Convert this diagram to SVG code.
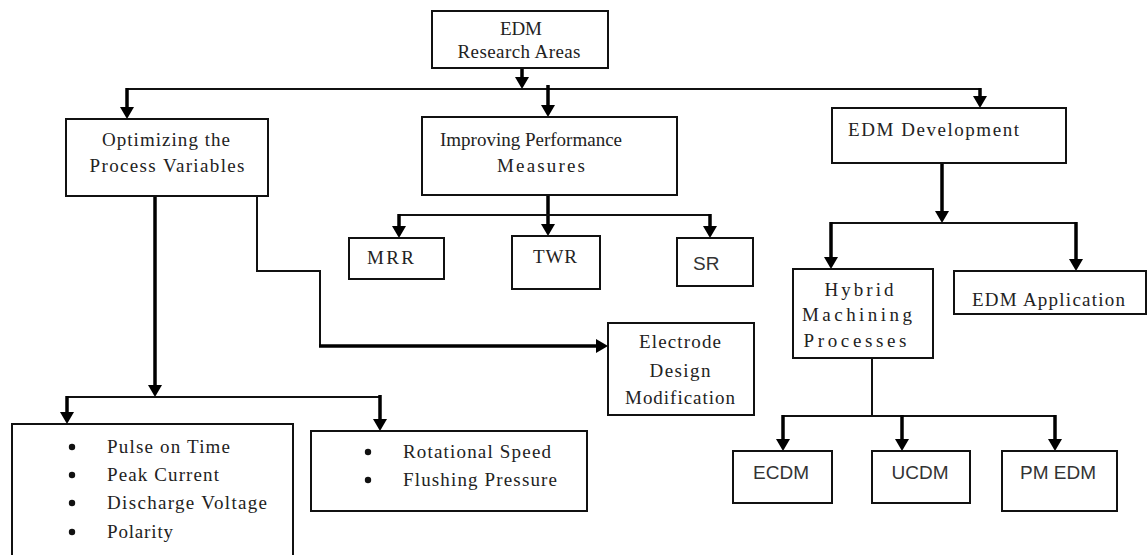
<svg xmlns="http://www.w3.org/2000/svg" width="1148" height="555" viewBox="0 0 1148 555">
<defs>
<marker id="ah" viewBox="0 0 12 14" refX="1" refY="7" markerWidth="12" markerHeight="14" markerUnits="userSpaceOnUse" orient="auto">
<path d="M0,0 L12,7 L0,14 z" fill="#000"/>
</marker>
<style>
.box{fill:#fff;stroke:#111;stroke-width:2}
.t{font-family:"Liberation Serif","Times New Roman",serif;font-size:19px;fill:#222}
.s{font-family:"Liberation Sans",Arial,sans-serif;font-size:19px;fill:#333}
.m{text-anchor:middle}
.thin{fill:none;stroke:#111;stroke-width:2}
.thick{fill:none;stroke:#000;stroke-width:3.5;marker-end:url(#ah)}
.bul{fill:#111}
</style>
</defs>
<rect width="1148" height="555" fill="#fff"/>

<g id="connectors">
<path class="thick" d="M522,68 V78"/>
<path class="thin" d="M127,89 H980"/>
<path class="thick" d="M127,88 V108"/>
<path class="thick" d="M548,85 V106"/>
<path class="thick" d="M980,88 V97"/>
<path class="thick" d="M155,196 V386"/>
<path class="thin" d="M67,397 H380"/>
<path class="thick" d="M67,396 V413"/>
<path class="thick" d="M380,395 V420"/>
<path class="thin" d="M257,196 V271 H320 V346"/>
<path class="thick" d="M319,346 H597"/>
<path class="thick" d="M548,195 V225"/>
<path class="thin" d="M399,215 H710"/>
<path class="thick" d="M399,214 V227"/>
<path class="thick" d="M710,214 V227"/>
<path class="thick" d="M942,163 V212"/>
<path class="thin" d="M831,223 H1076"/>
<path class="thick" d="M831,222 V258"/>
<path class="thick" d="M1076,222 V260"/>
<path class="thin" d="M872,358 V416"/>
<path class="thin" d="M783,416 H1055"/>
<path class="thick" d="M783,415 V440"/>
<path class="thick" d="M902,415 V440"/>
<path class="thick" d="M1055,415 V440"/>
</g>

<g id="n-root">
<rect class="box" x="432" y="11" width="176" height="57"/>
<text class="t m" x="521" y="35" textLength="42">EDM</text>
<text class="t m" x="519" y="58" textLength="123">Research Areas</text>
</g>

<g id="n-optimizing">
<rect class="box" x="66" y="119" width="202" height="77"/>
<text class="t m" x="166" y="146" textLength="128">Optimizing the</text>
<text class="t m" x="167" y="172" textLength="155">Process Variables</text>
</g>

<g id="n-improving">
<rect class="box" x="422" y="117" width="255" height="78"/>
<text class="t m" x="531" y="146">Improving Performance</text>
<text class="t m" x="541" y="172" textLength="88">Measures</text>
</g>

<g id="n-development">
<rect class="box" x="832" y="108" width="234" height="55"/>
<text class="t" x="848" y="136" textLength="171">EDM Development</text>
</g>

<g id="n-mrr">
<rect class="box" x="349" y="238" width="95" height="41"/>
<text class="t" x="367" y="264" textLength="47">MRR</text>
</g>

<g id="n-twr">
<rect class="box" x="512" y="236" width="88" height="53"/>
<text class="t" x="533" y="263" textLength="44">TWR</text>
</g>

<g id="n-sr">
<rect class="box" x="677" y="238" width="76" height="48"/>
<text class="s" x="693" y="270">SR</text>
</g>

<g id="n-electrode">
<rect class="box" x="608" y="323" width="146" height="92"/>
<text class="t m" x="680" y="348" textLength="82">Electrode</text>
<text class="t m" x="680" y="377" textLength="61">Design</text>
<text class="t m" x="680" y="404" textLength="110">Modification</text>
</g>

<g id="n-hybrid">
<rect class="box" x="793" y="269" width="140" height="89"/>
<text class="t m" x="859" y="296" textLength="69">Hybrid</text>
<text class="t m" x="857" y="321" textLength="110">Machining</text>
<text class="t m" x="855" y="347" textLength="103">Processes</text>
</g>

<g id="n-application">
<rect class="box" x="954" y="271" width="192" height="43"/>
<text class="t" x="972" y="306" textLength="153">EDM Application</text>
</g>

<g id="n-params1">
<rect class="box" x="12" y="424" width="281" height="145"/>
<circle class="bul" cx="72" cy="447" r="3.2"/>
<circle class="bul" cx="72" cy="475" r="3.2"/>
<circle class="bul" cx="72" cy="503" r="3.2"/>
<circle class="bul" cx="72" cy="532" r="3.2"/>
<text class="t" x="107" y="453" textLength="123">Pulse on Time</text>
<text class="t" x="107" y="481" textLength="112">Peak Current</text>
<text class="t" x="107" y="509" textLength="160">Discharge Voltage</text>
<text class="t" x="107" y="538" textLength="66">Polarity</text>
</g>

<g id="n-params2">
<rect class="box" x="311" y="431" width="276" height="80"/>
<circle class="bul" cx="368" cy="452" r="3.2"/>
<circle class="bul" cx="368" cy="480" r="3.2"/>
<text class="t" x="403" y="458" textLength="148">Rotational Speed</text>
<text class="t" x="403" y="486" textLength="154">Flushing Pressure</text>
</g>

<g id="n-ecdm">
<rect class="box" x="733" y="451" width="99" height="52"/>
<text class="s m" x="781" y="479">ECDM</text>
</g>

<g id="n-ucdm">
<rect class="box" x="872" y="451" width="98" height="52"/>
<text class="s m" x="920" y="479">UCDM</text>
</g>

<g id="n-pmedm">
<rect class="box" x="1002" y="451" width="115" height="60"/>
<text class="s m" x="1058" y="479">PM EDM</text>
</g>
</svg>
